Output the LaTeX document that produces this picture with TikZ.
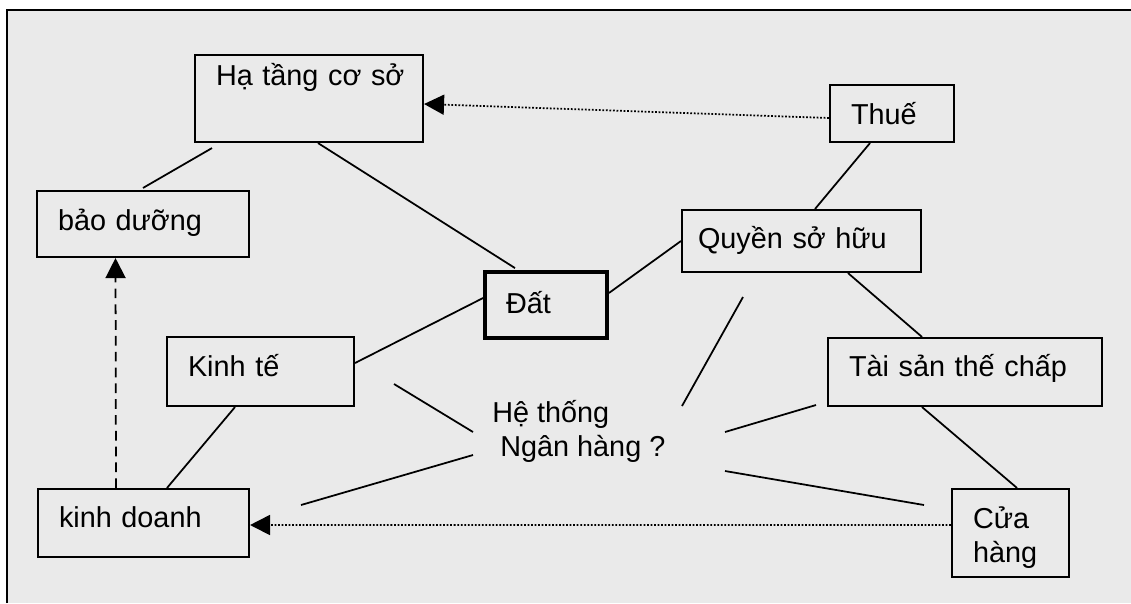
\documentclass[tikz,border=0pt]{standalone}
\usepackage{fontspec}
\setmainfont{Liberation Sans}
\usepackage{xcolor}
\usepackage{tikz}
\usetikzlibrary{arrows.meta}

\definecolor{bggrey}{RGB}{234,234,234}

\begin{document}
\begin{tikzpicture}[x=0.02cm,y=-0.02cm,
    box/.style={draw,line width=1.2pt,rectangle,align=left,inner xsep=0.42cm,inner ysep=0pt,text depth=0.25cm,font=\fontsize{16.4}{19.3}\selectfont},
    link/.style={line width=1pt},
    dotarrow/.style={line width=1pt,dash pattern=on 1pt off 1pt,-{Triangle[length=0.4cm,width=0.4cm]}},
    dasharrow/.style={line width=1pt,dash pattern=on 5.5pt off 3.5pt,-{Triangle[length=0.4cm,width=0.4cm]}}]
    \useasboundingbox (0,0) rectangle (1131,603);
    \fill[white] (0,0) rectangle (1131,603);
    \fill[bggrey] (7,10) rectangle (1131,603);
    \draw[line width=1.2pt] (7,603) -- (7,10) -- (1131,10);

    \node [box,minimum width=4.56cm,minimum height=1.74cm,text width=3.72cm,text depth=0.95cm] (ha) at (309,98.5) {\mbox{Hạ tầng cơ sở}};
    \node [box,minimum width=2.48cm,minimum height=1.14cm,text width=1.64cm,text depth=0cm] (thue) at (892,113.5) {Thuế};
    \node [box,minimum width=4.24cm,minimum height=1.32cm,text width=3.4cm,text depth=0.15cm] (bd) at (143,224) {bảo dưỡng};
    \node [box,minimum width=4.78cm,minimum height=1.24cm,inner xsep=0.32cm,text width=4.14cm,text depth=0.15cm] (qu) at (801.5,241) {Quyền sở hữu};
    \node [box,line width=2.2pt,minimum width=2.44cm,minimum height=1.32cm,text width=1.6cm,text depth=0.1cm] (dat) at (546,305) {Đất};
    \node [box,minimum width=3.74cm,minimum height=1.38cm,text width=2.9cm] (kt) at (260.5,371.5) {Kinh tế};
    \node [box,minimum width=5.48cm,minimum height=1.36cm,text width=4.64cm] (ts) at (965,372) {Tài sản thế chấp};
    \node [box,minimum width=4.22cm,minimum height=1.36cm,text width=3.38cm] (kd) at (143.5,523) {kinh doanh};
    \node [box,minimum width=2.34cm,minimum height=1.76cm,text width=1.5cm,text depth=0.6cm] (cua) at (1010.5,533) {Cửa\\hàng};
    \node [align=left,anchor=west,inner sep=0pt,font=\fontsize{16.4}{19.3}\selectfont] (nh) at (492,431.5) {Hệ thống\\\hspace*{0.16cm}Ngân hàng ?};

    \draw[link] ([xshift=-1.94cm,yshift=-0.1cm]ha.south) -- ([yshift=0.04cm]bd.north);
    \draw[link] ([xshift=0.18cm]ha.south) -- ([xshift=-0.62cm,yshift=0.04cm]dat.north);
    \draw[link] ([yshift=0.17cm]kt.east) -- ([yshift=0.14cm]dat.west);
    \draw[link] ([yshift=0.24cm]dat.east) -- (qu.west);
    \draw[link] ([xshift=0.27cm]qu.north) -- ([xshift=-0.44cm]thue.south);
    \draw[link] ([xshift=0.93cm]qu.south) -- ([xshift=-0.86cm]ts.north);
    \draw[link] ([xshift=-0.86cm]ts.south) -- ([xshift=0.13cm]cua.north);
    \draw[link] ([xshift=-0.51cm]kt.south) -- ([xshift=0.47cm]kd.north);

    \coordinate (a1) at (394,384);
    \coordinate (b1) at (473,432);
    \coordinate (a2) at (473,455);
    \coordinate (b2) at (301,505);
    \coordinate (a3) at (743,297);
    \coordinate (b3) at (682,406);
    \coordinate (a4) at (725,432);
    \coordinate (b4) at (816,405);
    \coordinate (a5) at (725,471);
    \coordinate (b5) at (924,505);
    \draw[link] (a1) -- (b1);
    \draw[link] (a2) -- (b2);
    \draw[link] (a3) -- (b3);
    \draw[link] (a4) -- (b4);
    \draw[link] (a5) -- (b5);

    \draw[dotarrow] ([yshift=-0.09cm]thue.west) -- ([yshift=-0.11cm]ha.east);
    \draw[dotarrow] ([yshift=0.16cm]cua.west) -- ([yshift=-0.04cm]kd.east);
    \draw[dasharrow] ([xshift=-0.55cm]kd.north) -- ([xshift=-0.55cm]bd.south);
\end{tikzpicture}
\end{document}
